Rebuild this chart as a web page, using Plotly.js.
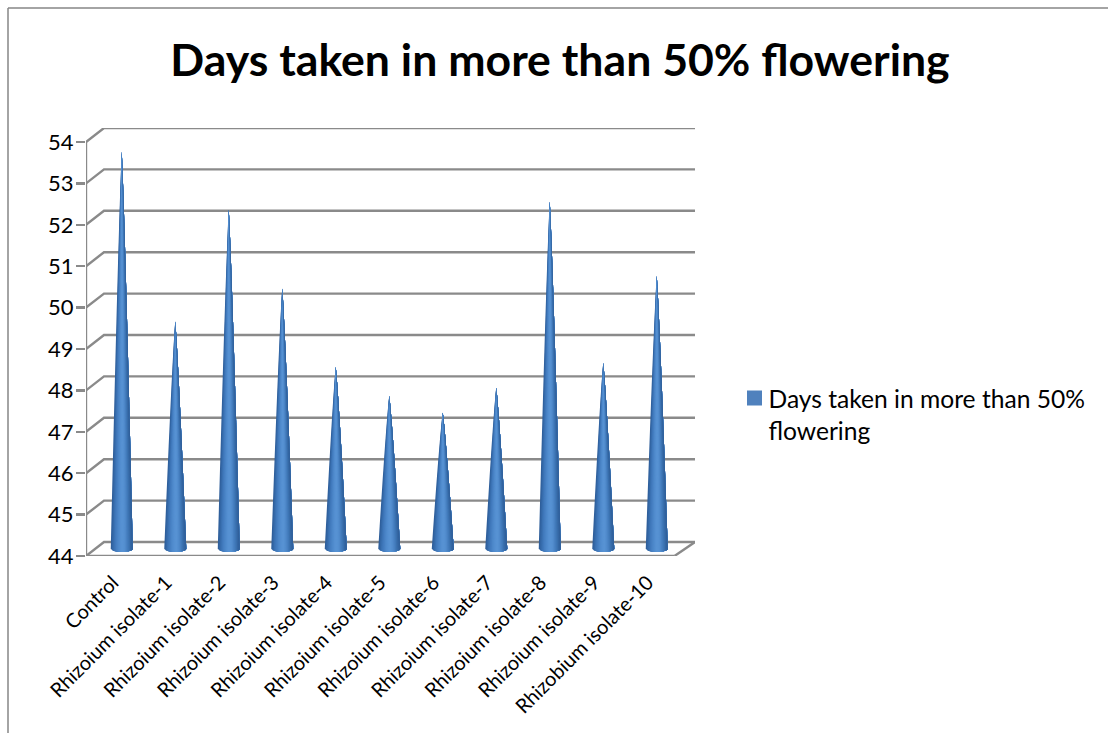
<!DOCTYPE html>
<html>
<head>
<meta charset="utf-8">
<script src="https://cdn.plot.ly/plotly-3.0.1.min.js"></script>
<style>html,body{margin:0;padding:0;background:#fff}#chart{width:1108px;height:733px}</style>
</head>
<body>
<div id="chart"></div>
<script>
// Flowering data per treatment
const categories = ["Control","Rhizoium isolate-1","Rhizoium isolate-2","Rhizoium isolate-3","Rhizoium isolate-4","Rhizoium isolate-5","Rhizoium isolate-6","Rhizoium isolate-7","Rhizoium isolate-8","Rhizoium isolate-9","Rhizobium isolate-10"];
const daysToFlowering = [53.6,49.5,52.2,50.3,48.4,47.7,47.3,47.9,52.4,48.5,50.6];
const yTicks = [44,45,46,47,48,49,50,51,52,53,54];
const seriesName = "Days taken in more than 50%<br>flowering";
const chartTitle = "Days taken in more than 50% flowering";

// Pixel frame of the plot area and the oblique depth of the 3-D box
const W = 1108, H = 733;
const left = 86, right = 695, top_ = 128, bottom = 556;
const pxPerCat = 53.5, pxPerUnit = 41.4;
const depthX = 18 / pxPerCat, depthY = 14 / pxPerUnit;
const xMin = -0.5, xMax = xMin + (right - left) / pxPerCat, xFront = xMin + categories.length;
const yMin = 44, yMax = yMin + (bottom - top_) / pxPerUnit;

const GRID = "#8a8a8a";

// Back wall gridlines, their side-wall returns, the front axes and tick marks
const frameX = [], frameY = [];
const addPath = (xs, ys) => { frameX.push(...xs, null); frameY.push(...ys, null); };
yTicks.forEach(v => addPath([xMin, xMin + depthX, xMax], [v, v + depthY, v + depthY]));
addPath([xFront, xMax], [yMin, yMin + depthY]);
addPath([xMin, xMin], [yMin, yTicks[yTicks.length - 1]]);
addPath([xMin, xFront], [yMin, yMin]);
for (let i = 0; i <= categories.length; i++) addPath([xMin + i, xMin + i], [yMin, yMin - 6 / pxPerUnit]);

const frameTrace = {
  x: frameX, y: frameY, mode: "lines", type: "scatter", showlegend: false, hoverinfo: "skip",
  cliponaxis: false, line: {color: GRID, width: 2.4}
};

// Each cone is painted left to right from strips that converge at the tip;
// every strip runs through to the right edge so no seams show between them
const stripColors = ["#2f5f9b","#3468a7","#3a71b2","#4079bc","#467fc2","#4b86c8","#508bcd","#548fd1","#5792d3","#5792d3","#548fd0","#4f89ca","#4881c2","#4079b9","#3a70ae","#3467a4","#30609b"];
const baseHalfWidth = 11 / pxPerCat;
const baseDip = 2.8 / pxPerUnit;
const taperPower = 0.85;
const rings = [0, 0.15, 0.3, 0.45, 0.6, 0.72, 0.82, 0.9, 0.96, 1];
const rimSteps = 8;

function edgePoint(center, value, u, t) {
  const r = baseHalfWidth * Math.pow(1 - t, taperPower);
  const dip = baseDip * Math.sqrt(Math.max(0, 1 - u * u)) * (1 - t);
  return [center + u * r, yMin + depthY / 2 + t * (value - yMin) - dip];
}

const stripTraces = stripColors.map((color, s) => {
  const u0 = -1 + 2 * s / stripColors.length;
  const xs = [], ys = [];
  const put = p => { xs.push(p[0]); ys.push(p[1]); };
  daysToFlowering.forEach((value, i) => {
    const c = i + depthX / 2;
    // up the strip's left edge, down the cone's right edge, back along the curved base
    rings.forEach(t => put(edgePoint(c, value, u0, t)));
    rings.slice().reverse().forEach(t => put(edgePoint(c, value, 1, t)));
    for (let k = 1; k < rimSteps; k++) put(edgePoint(c, value, 1 + (u0 - 1) * k / rimSteps, 0));
    xs.push(null); ys.push(null);
  });
  return {x: xs, y: ys, type: "scatter", mode: "none", fill: "toself", fillcolor: color,
    showlegend: false, hoverinfo: "skip"};
});

// Legend key for the single series
const legendTrace = {
  x: [null], y: [null], type: "scatter", mode: "markers", name: seriesName,
  marker: {symbol: "square", size: 15, color: "#4f81bd"}, showlegend: true, hoverinfo: "skip"
};

const FONT = "Lato, 'Open Sans', sans-serif";
const layout = {
  width: W, height: H, paper_bgcolor: "#fff", plot_bgcolor: "rgba(0,0,0,0)",
  margin: {l: left, r: W - right, t: top_, b: H - bottom, pad: 0},
  font: {family: FONT, color: "#000"},
  title: {text: "<b>" + chartTitle + "</b>", font: {family: FONT, size: 44.6, color: "#000"},
    x: 560 / W, xanchor: "center", xref: "container", y: 1 - 60 / H, yanchor: "middle", yref: "container"},
  xaxis: {type: "linear", range: [xMin, xMax], tickmode: "array", tickvals: categories.map((_, i) => i),
    ticktext: categories, tickangle: -45, ticks: "", showgrid: false, zeroline: false, showline: false,
    ticklabelstandoff: 10, tickfont: {family: FONT, size: 20, color: "#000"}, automargin: false},
  yaxis: {type: "linear", range: [yMin, yMax], tickmode: "array", tickvals: yTicks, ticktext: yTicks.map(String),
    ticks: "outside", ticklen: 9, tickwidth: 2.4, tickcolor: GRID, showgrid: false, zeroline: false, showline: false,
    ticklabelstandoff: -2, tickfont: {family: FONT, size: 22, color: "#000"}, automargin: false},
  legend: {x: (734.5 - left) / (right - left), xanchor: "left", y: (bottom - 375.5) / (bottom - top_), yanchor: "top",
    indentation: -6, font: {family: FONT, size: 24.6, color: "#000"}, bgcolor: "rgba(0,0,0,0)"},
  shapes: [
    // Chart-area border: top and left edges only
    {type: "line", xref: "paper", yref: "paper", x0: (8 - left) / (right - left), x1: (W - left) / (right - left),
      y0: (bottom - 8) / (bottom - top_), y1: (bottom - 8) / (bottom - top_), line: {color: "#868686", width: 1.5}},
    {type: "line", xref: "paper", yref: "paper", x0: (8 - left) / (right - left), x1: (8 - left) / (right - left),
      y0: (bottom - 8) / (bottom - top_), y1: (bottom - H) / (bottom - top_), line: {color: "#868686", width: 1.5}}
  ],
  showlegend: true
};

Plotly.newPlot("chart", [frameTrace, ...stripTraces, legendTrace], layout, {displayModeBar: false, staticPlot: true}).then(() => {
  // Sit the legend key beside the first text line, close to the label
  const key = document.querySelector("#chart .legend .scatterpts");
  if (key) key.setAttribute("transform", (key.getAttribute("transform") || "") + " translate(6,-16)");
});
</script>
</body>
</html>
